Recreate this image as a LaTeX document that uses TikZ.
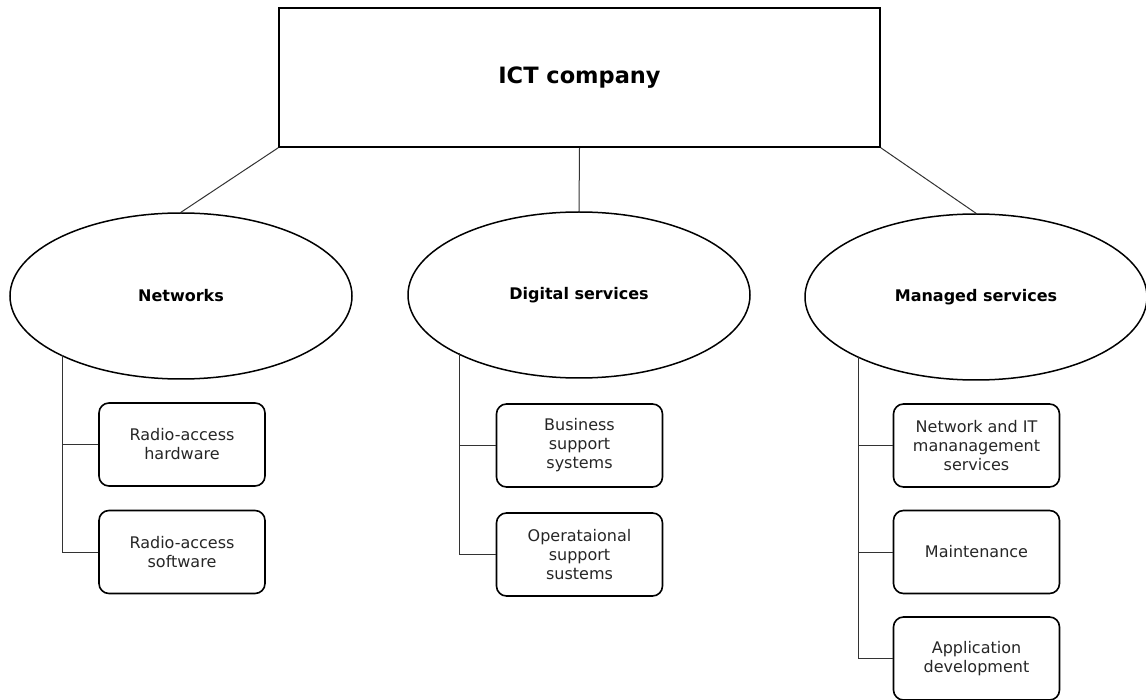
\documentclass[tikz,border=0pt]{standalone}
\usepackage{fontspec}
\setmainfont{DejaVu Sans}
\usetikzlibrary{shapes.geometric}
\begin{document}
\begin{tikzpicture}[x=1pt,y=-1pt,
  topbox/.style={draw=black,line width=1.6pt,minimum width=601pt,minimum height=139pt,inner sep=0pt,font=\fontsize{22.5}{26}\selectfont\bfseries},
  unit/.style={draw=black,line width=1.5pt,ellipse,minimum width=342pt,minimum height=166pt,inner sep=0pt,font=\fontsize{16}{19}\selectfont\bfseries},
  leaf/.style={draw=black,line width=1.6pt,rounded corners=10pt,minimum width=166pt,minimum height=83pt,inner sep=0pt,align=center,text=black!85,font=\fontsize{16}{19}\selectfont},
  conn/.style={draw=black!80,line width=1pt}]
\useasboundingbox (0,0) rectangle (1146,700);
\node[topbox] (ict) at (579.5,77.5) {ICT company};
\node[unit] (net) at (181,296) {Networks};
\node[unit] (dig) at (579,295) {Digital services};
\node[unit] (man) at (976,297) {Managed services};
\node[leaf] (n1) at (182,444.5) {Radio-access\\hardware};
\node[leaf] (n2) at (182,552) {Radio-access\\software};
\node[leaf] (d1) at (579.5,445.5) {Business\\support\\systems};
\node[leaf] (d2) at (579.5,554.5) {Operataional\\support\\sustems};
\node[leaf] (m1) at (976.5,445.5) {Network and IT\\mananagement\\services};
\node[leaf] (m2) at (976.5,552) {Maintenance};
\node[leaf] (m3) at (976.5,658.5) {Application\\development};
% top-level connectors
\draw[conn] (ict.south west) -- (net.north);
\draw[conn] (ict.south) -- (dig.north);
\draw[conn] (ict.south east) -- (man.north);
% Networks children
\coordinate (nv) at (62,355);
\draw[conn] (nv) |- (n2.west);
\draw[conn] (nv |- n1.west) -- (n1.west);
% Digital children
\coordinate (dv) at (459,353);
\draw[conn] (dv) |- (d2.west);
\draw[conn] (dv |- d1.west) -- (d1.west);
% Managed children
\coordinate (mv) at (858,357);
\draw[conn] (mv) |- (m3.west);
\draw[conn] (mv |- m1.west) -- (m1.west);
\draw[conn] (mv |- m2.west) -- (m2.west);
\end{tikzpicture}
\end{document}
